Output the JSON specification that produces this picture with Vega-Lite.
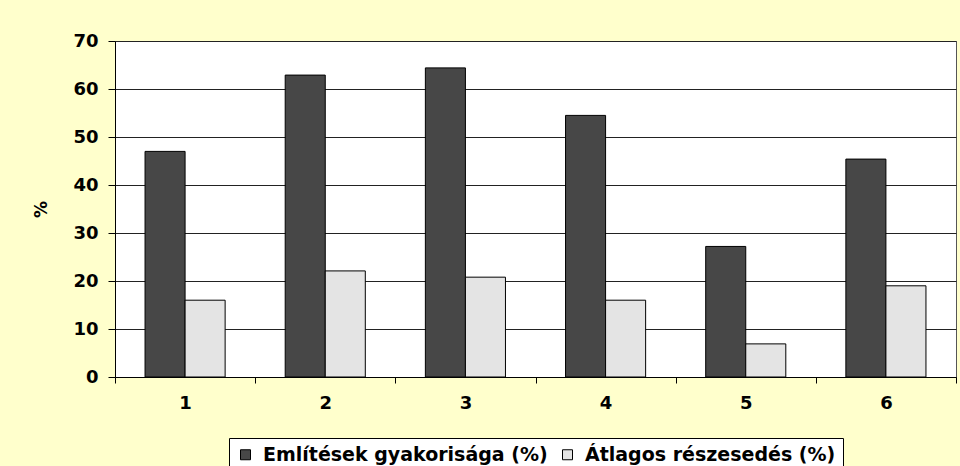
{
  "$schema": "https://vega.github.io/schema/vega-lite/v6.json",
  "width": 841,
  "height": 336,
  "autosize": {"type": "none"},
  "padding": {"left": 115, "top": 41, "right": 4, "bottom": 89},
  "background": "#FFFFCC",
  "data": {
    "values": [
      {"cat": "1", "series": "Említések gyakorisága (%)", "value": 47},
      {"cat": "1", "series": "Átlagos részesedés (%)", "value": 16},
      {"cat": "2", "series": "Említések gyakorisága (%)", "value": 62.9},
      {"cat": "2", "series": "Átlagos részesedés (%)", "value": 22.1},
      {"cat": "3", "series": "Említések gyakorisága (%)", "value": 64.4},
      {"cat": "3", "series": "Átlagos részesedés (%)", "value": 20.8},
      {"cat": "4", "series": "Említések gyakorisága (%)", "value": 54.5},
      {"cat": "4", "series": "Átlagos részesedés (%)", "value": 16},
      {"cat": "5", "series": "Említések gyakorisága (%)", "value": 27.2},
      {"cat": "5", "series": "Átlagos részesedés (%)", "value": 6.9},
      {"cat": "6", "series": "Említések gyakorisága (%)", "value": 45.4},
      {"cat": "6", "series": "Átlagos részesedés (%)", "value": 19}
    ]
  },
  "mark": {"type": "bar", "stroke": "black", "strokeWidth": 1},
  "encoding": {
    "x": {
      "field": "cat",
      "type": "nominal",
      "scale": {"paddingInner": 0, "paddingOuter": 0},
      "axis": {
        "title": null,
        "labelAngle": 0,
        "tickBand": "extent",
        "tickSize": 6,
        "tickColor": "black",
        "domainColor": "black",
        "labelFont": "DejaVu Sans",
        "labelFontWeight": "bold",
        "labelFontSize": 18,
        "labelColor": "black",
        "labelPadding": 11
      }
    },
    "xOffset": {
      "field": "series",
      "type": "nominal",
      "sort": ["Említések gyakorisága (%)", "Átlagos részesedés (%)"],
      "scale": {"paddingOuter": 0.75, "paddingInner": 0}
    },
    "y": {
      "field": "value",
      "type": "quantitative",
      "scale": {"domain": [0, 70], "nice": false},
      "axis": {
        "title": "%",
        "titleFont": "DejaVu Sans",
        "titleFontWeight": "bold",
        "titleFontSize": 17,
        "titleColor": "black",
        "titlePadding": 22,
        "values": [0, 10, 20, 30, 40, 50, 60, 70],
        "tickSize": 7,
        "tickColor": "black",
        "domainColor": "black",
        "gridColor": "#222222",
        "grid": true,
        "labelFont": "DejaVu Sans",
        "labelFontWeight": "bold",
        "labelFontSize": 18,
        "labelColor": "black",
        "labelPadding": 10
      }
    },
    "fill": {
      "field": "series",
      "type": "nominal",
      "sort": ["Említések gyakorisága (%)", "Átlagos részesedés (%)"],
      "scale": {"range": ["#474747", "#e4e4e4"]},
      "legend": {
        "title": null,
        "orient": "bottom",
        "direction": "horizontal",
        "offset": 26,
        "strokeColor": "black",
        "fillColor": "white",
        "padding": 7,
        "symbolType": "square",
        "symbolSize": 100,
        "symbolStrokeColor": "black",
        "symbolStrokeWidth": 1,
        "labelOffset": 8,
        "labelFont": "DejaVu Sans",
        "labelFontWeight": "bold",
        "labelFontSize": 19,
        "labelColor": "black",
        "labelLimit": 400,
        "columnPadding": 10
      }
    }
  },
  "config": {
    "view": {"fill": "white", "stroke": "#555555", "strokeWidth": 1},
    "legend": {"layout": {"bottom": {"anchor": "middle"}}}
  }
}
